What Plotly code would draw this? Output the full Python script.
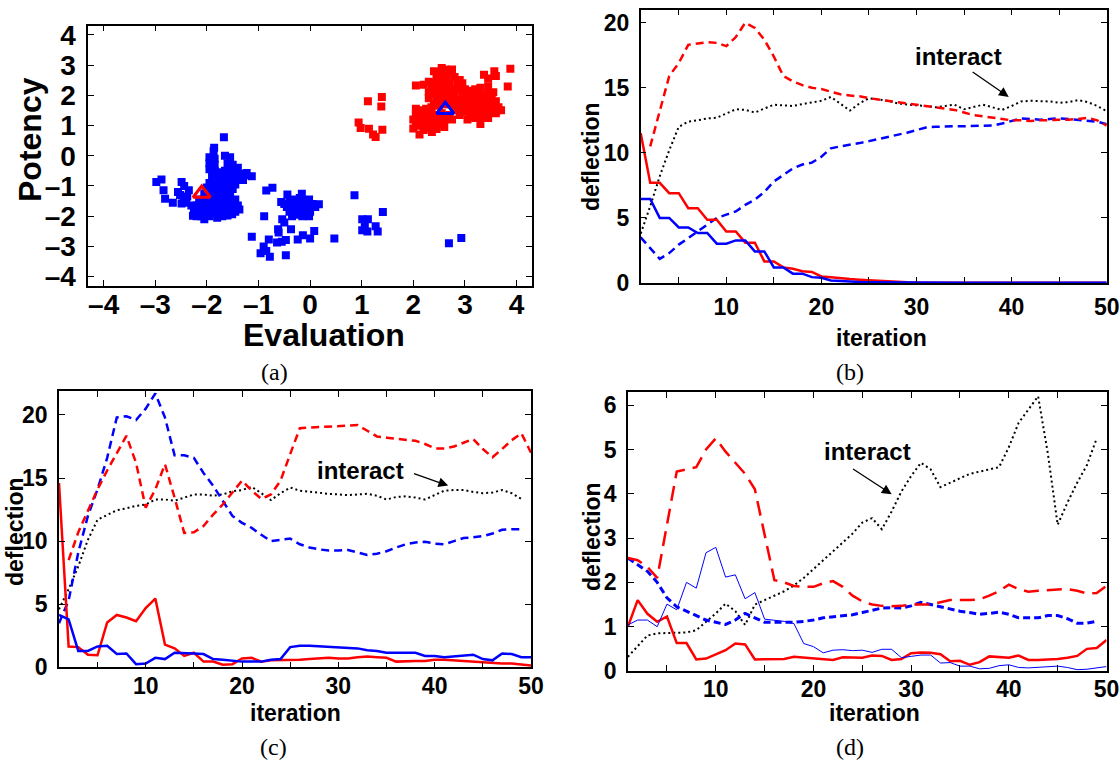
import plotly.graph_objects as go

# ---------------- data ----------------
# panel (a): scatter of (Evaluation, Potency)
red_pts = [
    (0.94,1.1),(0.98,0.92),(1.12,1.8),(1.39,1.94),(1.38,1.63),(1.14,0.89),(1.22,0.7),(1.27,0.62),(1.4,0.86),
    (3.88,2.88),(3.83,2.29),(3.3,1.05),(2.36,0.78),(2.12,0.7),(2.05,2.32),(2.4,2.79),(3.57,2.79),(3.37,2.68),
    (3.6,2.64),(3.45,2.55),(3.52,1.95),(3.62,1.5),
    (2.55,2.9),(2.62,2.85),(2.75,2.85),(2.5,2.7),(2.6,2.7),(2.7,2.72),(2.45,2.55),(2.55,2.55),(2.65,2.6),
    (2.8,2.6),(2.9,2.5),(2.3,2.45),(2.4,2.4),(2.5,2.4),(2.6,2.45),(2.7,2.4),(2.85,2.35),(2.95,2.4),(2.2,2.35),
    (2.35,2.3),(2.45,2.25),(2.55,2.2),(2.65,2.25),(2.75,2.2),(2.9,2.2),(2.3,2.1),(2.4,2.05),(2.5,2.0),(2.6,2.05),
    (2.7,2.05),(2.8,2.0),(2.95,2.05),(2.3,1.9),(2.45,1.85),(2.55,1.85),(2.65,1.9),(2.75,1.85),(2.85,1.85),
    (2.4,1.7),(2.5,1.65),(2.6,1.7),(2.7,1.7),(2.8,1.65),(2.9,1.7),
    (3.0,2.2),(3.1,2.15),(3.2,2.2),(3.3,2.25),(3.45,2.3),(3.05,2.0),(3.15,2.0),(3.25,2.05),(3.35,2.0),(3.45,2.05),
    (3.55,2.1),(3.0,1.85),(3.1,1.8),(3.2,1.85),(3.3,1.8),(3.4,1.85),(3.5,1.8),(3.6,1.8),(2.95,1.6),(3.05,1.65),
    (3.15,1.6),(3.25,1.65),(3.35,1.6),(3.45,1.6),(3.55,1.65),(3.65,1.6),(3.7,1.5),(3.0,1.45),(3.1,1.45),(3.2,1.4),
    (3.3,1.45),(3.4,1.4),(3.5,1.45),(3.6,1.4),(3.1,1.3),(3.2,1.25),(3.35,1.3),(3.45,1.25),(2.85,1.5),(2.9,1.35),(3.05,1.2),
    (2.05,1.55),(2.15,1.5),(2.25,1.55),(2.35,1.6),(2.05,1.35),(2.15,1.3),(2.25,1.35),(2.35,1.4),(2.45,1.35),
    (2.55,1.4),(2.7,1.35),(2.0,1.2),(2.1,1.15),(2.2,1.2),(2.3,1.2),(2.4,1.15),(2.5,1.2),(2.6,1.2),(2.75,1.2),
    (2.05,1.0),(2.15,1.0),(2.25,1.05),(2.35,1.0),(2.45,1.0),(2.55,1.05),(2.0,0.9),(2.2,0.85),(2.3,0.9),(2.45,0.88),(2.6,0.95),
]
blue_pts = [
    (-2.98,-0.87),(-2.88,-0.79),(-2.84,-1.14),(-2.81,-1.42),(-2.66,-1.56),(-2.56,-1.2),(-2.49,-0.87),(-2.44,-1.0),
    (-2.35,-1.14),(-2.4,-1.56),(-2.49,-1.58),(-2.52,-1.3),(-2.45,-1.45),(-2.38,-1.35),(-1.67,0.61),(-1.86,0.26),
    (-1.87,0.15),(-1.13,-0.68),(-1.23,-0.57),(-1.37,-1.78),(-1.51,-1.94),(-2.05,-2.1),(-2.27,-1.99),
    (-1.95,-0.05),(-1.85,-0.1),(-1.65,0.0),(-1.55,-0.05),(-1.95,-0.25),(-1.85,-0.3),(-1.6,-0.25),(-1.5,-0.3),
    (-1.4,-0.4),(-1.95,-0.45),(-1.85,-0.5),(-1.75,-0.55),(-1.65,-0.5),(-1.55,-0.5),(-1.45,-0.55),(-1.35,-0.6),
    (-1.25,-0.65),(-1.9,-0.7),(-1.8,-0.7),(-1.7,-0.75),(-1.6,-0.7),(-1.5,-0.75),(-1.4,-0.75),(-1.3,-0.8),
    (-1.95,-0.9),(-1.85,-0.95),(-1.75,-0.9),(-1.65,-0.95),(-1.55,-0.9),(-1.45,-0.95),(-2.0,-1.05),(-1.9,-1.1),
    (-1.8,-1.1),(-1.7,-1.05),(-1.6,-1.1),(-1.5,-1.1),
    (-2.05,-1.25),(-1.95,-1.3),(-1.85,-1.25),(-1.75,-1.3),(-1.65,-1.25),(-1.55,-1.3),(-2.15,-1.45),(-2.05,-1.45),
    (-1.95,-1.5),(-1.85,-1.45),(-1.75,-1.5),(-1.65,-1.45),(-1.55,-1.5),(-1.45,-1.45),(-2.3,-1.65),(-2.2,-1.65),
    (-2.1,-1.6),(-2.0,-1.65),(-1.9,-1.7),(-1.8,-1.65),(-1.7,-1.7),(-1.6,-1.65),(-1.5,-1.7),(-1.4,-1.65),
    (-2.25,-1.85),(-2.15,-1.8),(-2.05,-1.85),(-1.95,-1.85),(-1.85,-1.9),(-1.75,-1.85),(-1.65,-1.9),(-1.55,-1.85),
    (-1.45,-1.85),(-2.2,-2.0),(-2.1,-2.0),(-1.95,-2.0),(-1.8,-2.05),(-1.7,-2.0),(-1.6,-1.98),
    (-0.85,-1.15),(-0.73,-1.06),(-0.89,-2.0),(-1.13,-2.68),(-0.80,-2.77),(-0.9,-3.0),(-0.96,-3.23),(-0.78,-3.34),
    (-0.47,-3.29),(-0.64,-2.87),(-0.47,-2.79),(-0.61,-2.54),(-0.62,-2.43),(-0.54,-2.1),(-0.5,-2.21),(-0.37,-2.43),
    (-0.24,-2.77),(-0.14,-2.63),(0.0,-2.74),(0.08,-2.49),(0.47,-2.74),(-0.44,-1.28),(-0.16,-1.26),(0.17,-1.61),
    (-0.02,-1.45),(-0.02,-2.0),(-0.56,-1.53),(-0.55,-2.85),(-0.85,-3.15),
    (-0.4,-1.5),(-0.3,-1.45),(-0.2,-1.4),(-0.1,-1.5),(0.05,-1.6),(-0.45,-1.7),(-0.35,-1.65),(-0.25,-1.6),
    (-0.15,-1.65),(-0.05,-1.7),(0.1,-1.7),(-0.4,-1.85),(-0.3,-1.8),(-0.2,-1.85),(-0.1,-1.8),(0.0,-1.85),
    (-0.35,-2.0),(-0.25,-1.95),(-0.15,-2.0),(-0.3,-1.55),(-0.5,-1.6),
    (0.86,-1.31),(1.41,-1.86),(1.01,-2.1),(1.12,-2.1),(1.06,-2.33),(1.01,-2.47),(1.11,-2.51),(1.27,-2.33),
    (1.31,-2.51),(2.69,-2.9),(2.93,-2.72),
]
red_triangle = (-2.1, -1.25)
blue_triangle = (2.62, 1.52)

iterations = list(range(1, 51))

# panel (b)
b_red_solid = [11.5,7.7,7.7,6.9,6.9,5.75,5.75,4.86,4.86,3.96,3.96,3.1,3.1,1.66,1.66,1.2,1.1,0.9,0.85,0.5,
               0.45,0.35,0.3,0.25,0.2,0.15,0.1,0.07,0.05,0.03,0.02,0.02,0.02,0.01,0.01,0.01,0.01,0.01,0.01,0.01,
               0.01,0.01,0.01,0.01,0.01,0.01,0.01,0.01,0.01,0.01]
b_blue_solid = [6.45,6.45,5.0,5.0,4.27,4.27,3.84,3.84,3.02,3.02,3.27,3.27,2.43,2.43,1.2,1.2,0.72,0.72,0.45,0.4,
                0.2,0.15,0.1,0.08,0.06,0.05,0.04,0.03,0.02,0.02,0.01,0.01,0.01,0.01,0.01,0.01,0.01,0.01,0.01,0.01,
                0.01,0.01,0.01,0.01,0.01,0.01,0.01,0.01,0.01,0.01]
b_red_dash = [None,10.5,13.3,15.9,16.9,18.3,18.4,18.5,18.45,18.2,18.9,20.0,19.6,18.7,17.4,15.9,15.5,15.2,15.0,14.9,
              14.7,14.5,14.4,14.35,14.2,14.1,14.0,13.9,13.8,13.7,13.6,13.5,13.4,13.3,13.1,12.9,12.8,12.7,12.6,12.5,
              12.5,12.45,12.5,12.5,12.55,12.55,12.6,12.7,12.5,12.1]
b_blue_dash = [3.5,2.7,1.85,2.3,2.95,3.45,3.95,4.5,5.0,5.25,5.5,6.0,6.4,7.0,7.8,8.3,8.8,9.1,9.25,9.7,
               10.35,10.5,10.6,10.75,10.9,11.05,11.2,11.4,11.55,11.75,11.95,12.0,12.05,12.05,12.05,12.05,12.05,12.1,12.25,12.45,
               12.65,12.6,12.55,12.6,12.65,12.6,12.55,12.45,12.4,12.2]
b_interact = [3.8,5.9,8.2,10.2,12.0,12.4,12.5,12.65,12.7,13.0,13.35,13.3,13.1,13.4,13.7,13.65,13.6,13.75,13.9,14.0,
              14.3,13.8,13.25,13.8,14.2,14.1,14.0,13.8,13.7,13.65,13.6,13.5,13.6,13.7,13.35,13.5,13.7,13.5,13.3,13.6,
              13.95,14.0,14.0,13.95,13.85,13.9,14.05,13.9,13.6,13.2]

# panel (c)
c_red_solid = [14.6,1.65,1.6,1.0,0.95,3.55,4.15,3.95,3.65,4.7,5.45,1.8,1.5,0.9,1.15,0.45,0.45,0.2,0.25,0.7,
               0.75,0.45,0.55,0.55,0.55,0.6,0.65,0.7,0.75,0.7,0.7,0.8,0.85,0.8,0.75,0.45,0.5,0.5,0.5,0.6,
               0.6,0.55,0.5,0.45,0.4,0.3,0.3,0.3,0.25,0.15]
c_blue_solid = [4.15,3.8,1.3,1.3,1.65,1.7,1.05,1.1,0.25,0.3,0.75,0.65,1.15,1.15,1.1,1.05,0.65,0.6,0.5,0.45,
                0.45,0.45,0.6,0.65,1.6,1.7,1.7,1.65,1.65,1.6,1.55,1.5,1.35,1.3,1.15,1.15,1.2,1.15,0.9,0.9,
                0.8,0.85,0.95,1.0,0.65,0.55,1.1,1.05,0.8,0.8]
c_red_dash = [None,8.5,10.7,12.4,14.1,15.6,17.0,18.35,16.2,12.65,14.1,16.1,13.45,10.65,10.7,11.2,12.1,12.9,13.85,14.8,
              14.0,13.35,13.7,14.8,16.9,18.95,19.0,19.05,19.1,19.15,19.2,19.2,18.75,18.3,18.2,18.1,18.0,17.95,17.7,17.35,
              17.35,17.5,17.8,18.1,17.3,16.65,17.3,18.0,18.55,17.0]
c_blue_dash = [3.5,5.3,9.1,12.0,14.1,16.6,19.8,19.9,19.6,20.5,21.7,19.8,16.8,16.8,16.6,15.4,14.4,13.2,12.0,11.45,
               11.05,10.5,10.0,10.1,10.2,9.75,9.5,9.35,9.25,9.25,9.3,9.1,8.9,9.0,9.2,9.5,9.75,9.9,9.95,9.8,
               9.75,10.0,10.25,10.3,10.4,10.6,10.9,10.95,10.95,None]
c_interact = [4.6,6.2,8.0,10.1,11.7,12.1,12.45,12.6,12.8,12.9,13.3,13.3,13.2,13.45,13.7,13.7,13.6,13.7,13.95,14.05,
              14.3,13.8,13.25,13.8,14.25,14.0,13.9,13.8,13.75,13.7,13.65,13.7,13.75,13.6,13.3,13.5,13.55,13.45,13.3,13.65,
              14.0,14.05,14.05,13.9,13.8,13.85,14.05,13.8,13.35,None]

# panel (d)
d_red_solid = [1.0,1.6,1.29,1.11,1.23,0.63,0.63,0.26,0.28,0.38,0.47,0.62,0.6,0.26,0.26,0.26,0.27,0.32,0.3,0.28,
               0.26,0.25,0.31,0.3,0.3,0.35,0.34,0.25,0.27,0.4,0.42,0.41,0.38,0.22,0.23,0.14,0.2,0.33,0.31,0.3,
               0.35,0.25,0.25,0.26,0.27,0.3,0.34,0.5,0.52,0.7]
d_blue_solid = [1.04,1.15,1.15,1.0,1.51,1.38,2.0,1.87,2.67,2.79,2.12,2.17,1.63,1.77,1.17,1.15,1.12,1.07,0.62,0.55,
                0.41,0.47,0.48,0.46,0.47,0.42,0.49,0.49,0.3,0.33,0.36,0.36,0.18,0.19,0.11,0.11,0.05,0.06,0.12,0.14,
                0.08,0.07,0.08,0.09,0.11,0.08,0.03,0.04,0.07,0.1]
d_red_dash = [2.55,2.5,2.35,2.1,3.3,4.5,4.55,4.6,5.0,5.25,4.95,4.7,4.45,4.1,3.1,2.05,2.0,1.92,1.9,1.9,
              1.98,2.03,1.9,1.7,1.57,1.5,1.47,1.46,1.47,1.5,1.5,1.5,1.55,1.6,1.6,1.6,1.62,1.7,1.8,1.95,
              1.85,1.79,1.81,1.83,1.84,1.85,1.81,1.75,1.76,1.92]
d_blue_dash = [2.55,2.4,2.25,2.0,1.65,1.45,1.35,1.25,1.15,1.1,1.05,1.15,1.3,1.2,1.1,1.1,1.1,1.1,1.12,1.15,
               1.2,1.22,1.25,1.27,1.32,1.37,1.42,1.43,1.42,1.47,1.55,1.5,1.45,1.4,1.35,1.32,1.28,1.3,1.33,1.28,
               1.2,1.2,1.2,1.25,1.25,1.18,1.08,1.08,1.12,None]
d_interact = [0.32,0.55,0.8,0.85,0.86,0.87,0.87,0.92,1.1,1.3,1.52,1.35,1.04,1.5,1.6,1.7,1.8,1.93,2.1,2.3,
              2.5,2.7,2.9,3.1,3.35,3.45,3.2,3.6,4.05,4.4,4.7,4.55,4.15,4.25,4.35,4.45,4.5,4.55,4.6,5.05,
              5.6,5.9,6.2,4.9,3.3,3.8,4.25,4.65,5.25,None]

x_ticks_a = [-4, -3, -2, -1, 0, 1, 2, 3, 4]
y_ticks_a = [-4, -3, -2, -1, 0, 1, 2, 3, 4]
iter_ticks = [10, 20, 30, 40, 50]
iter_minor_ticks = [5, 15, 25, 35, 45]
defl_ticks_bc = [0, 5, 10, 15, 20]
defl_ticks_d = [0, 1, 2, 3, 4, 5, 6]

# ---------------- figure ----------------
W, H = 1120, 761
RED, BLUE = "#ff0000", "#0000ff"
FONT = "Liberation Sans"
SERIF = "Liberation Serif"

def xd(a, b):
    return [a / W, b / W]

def yd(top, bottom):
    return [1 - bottom / H, 1 - top / H]

def tick_text(vals):
    return ["<b>" + str(v).replace("-", "\u2013") + "</b>" for v in vals]

fig = go.Figure()

# panel (a)
fig.add_trace(go.Scatter(x=[p[0] for p in red_pts], y=[p[1] for p in red_pts], mode="markers",
                         marker=dict(symbol="square", size=8, color=RED), xaxis="x", yaxis="y"))
fig.add_trace(go.Scatter(x=[p[0] for p in blue_pts], y=[p[1] for p in blue_pts], mode="markers",
                         marker=dict(symbol="square", size=8, color=BLUE), xaxis="x", yaxis="y"))
fig.add_trace(go.Scatter(x=[red_triangle[0]], y=[red_triangle[1]], mode="markers",
                         marker=dict(symbol="triangle-up-open", size=15, color=RED, line=dict(width=3, color=RED)),
                         xaxis="x", yaxis="y"))
fig.add_trace(go.Scatter(x=[blue_triangle[0]], y=[blue_triangle[1]], mode="markers",
                         marker=dict(symbol="triangle-up-open", size=15, color=BLUE, line=dict(width=3, color=BLUE)),
                         xaxis="x", yaxis="y"))

def add_line(y, ax, color, width, dash):
    fig.add_trace(go.Scatter(x=iterations, y=y, mode="lines",
                             line=dict(color=color, width=width, dash=dash),
                             xaxis="x" + ax, yaxis="y" + ax, connectgaps=False))

DASH = "8px,5px"
DOT = "2px,3px"
# (b)
add_line(b_interact, "2", "black", 2, DOT)
add_line(b_blue_dash, "2", BLUE, 2.5, DASH)
add_line(b_red_dash, "2", RED, 2.5, DASH)
add_line(b_red_solid, "2", RED, 2.5, "solid")
add_line(b_blue_solid, "2", BLUE, 2.5, "solid")
# (c)
add_line(c_interact, "3", "black", 2, DOT)
add_line(c_blue_dash, "3", BLUE, 2.5, DASH)
add_line(c_red_dash, "3", RED, 2.5, DASH)
add_line(c_red_solid, "3", RED, 2.5, "solid")
add_line(c_blue_solid, "3", BLUE, 2.5, "solid")
# (d)
add_line(d_interact, "4", "black", 2, DOT)
add_line(d_blue_dash, "4", BLUE, 3, "7px,4px")
add_line(d_red_dash, "4", RED, 2.5, "15px,8px")
add_line(d_red_solid, "4", RED, 2.5, "solid")
add_line(d_blue_solid, "4", BLUE, 1, "solid")

def axis(domain, rng, tickvals, size, standoff, minor=False):
    d = dict(domain=domain, range=rng, tickvals=tickvals, ticktext=tick_text(tickvals),
             ticks="inside", ticklen=6, tickwidth=1.2,
             tickcolor="black", showline=True, linecolor="black", linewidth=1.5, mirror="allticks",
             showgrid=False, zeroline=False, automargin=False, ticklabeloverflow="allow",
             tickfont=dict(family=FONT, size=size, color="black"),
             ticklabelstandoff=standoff)
    if minor:
        d["minor"] = dict(tickvals=iter_minor_ticks, ticks="inside", ticklen=6, tickwidth=1.2,
                          tickcolor="black", showgrid=False)
    return d

fig.update_layout(
    width=W, height=H, margin=dict(l=0, r=0, t=0, b=0, autoexpand=False), showlegend=False,
    paper_bgcolor="white", plot_bgcolor="white",
    xaxis=dict(axis(xd(88.2, 532), [-4.3, 4.3], x_ticks_a, 28, -7), anchor="y"),
    yaxis=dict(axis(yd(25.7, 285.7), [-4.3, 4.3], y_ticks_a, 28, 5), anchor="x"),
    xaxis2=dict(axis(xd(640.7, 1106.7), [1, 50], iter_ticks, 23, 3, True), anchor="y2"),
    yaxis2=dict(axis(yd(9.7, 283), [0, 21], defl_ticks_bc, 23, 5), anchor="x2"),
    xaxis3=dict(axis(xd(59, 531), [1, 50], iter_ticks, 23, -3, True), anchor="y3"),
    yaxis3=dict(axis(yd(391, 667.3), [0, 21.9], defl_ticks_bc, 23, 5), anchor="x3"),
    xaxis4=dict(axis(xd(627.9, 1106.5), [1, 50], iter_ticks, 23, -3, True), anchor="y4"),
    yaxis4=dict(axis(yd(392.3, 671), [0, 6.29], defl_ticks_d, 23, 5), anchor="x4"),
)

def label(text, px, py, size, family=FONT, bold=True, angle=0):
    fig.add_annotation(text=("<b>" + text + "</b>") if bold else text, x=px / W, y=1 - py / H,
                       xref="paper", yref="paper",
                       xanchor="center", yanchor="middle", showarrow=False, textangle=angle,
                       font=dict(family=family, size=size, color="black"))

label("Evaluation", 324, 335, 32)
label("Potency", 30, 140, 32, angle=-90)
label("iteration", 881, 338, 23)
label("deflection", 591, 157, 23, angle=-90)
label("iteration", 295, 713, 23)
label("deflection", 15, 532, 23, angle=-90)
label("iteration", 874, 713, 23)
label("deflection", 592, 537, 23, angle=-90)
label("(a)", 274, 372, 24, family=SERIF, bold=False)
label("(b)", 850, 372, 24, family=SERIF, bold=False)
label("(c)", 273, 747, 24, family=SERIF, bold=False)
label("(d)", 850, 747, 24, family=SERIF, bold=False)

def interact(ax, tx, ty, hx, hy, tailx, taily):
    fig.add_annotation(text="<b>interact</b>", x=tx, y=ty, xref="x" + ax, yref="y" + ax, showarrow=False,
                       font=dict(family=FONT, size=24, color="black"))
    fig.add_annotation(text="", x=hx, y=hy, ax=tailx, ay=taily, xref="x" + ax, yref="y" + ax,
                       axref="x" + ax, ayref="y" + ax, showarrow=True, arrowhead=2, arrowsize=1.5,
                       arrowwidth=1.3, arrowcolor="black")

interact("2", 34.4, 17.4, 39.7, 14.3, 35.75, 16.3)
interact("3", 32.3, 15.6, 41.4, 14.4, 37.7, 15.4)
interact("4", 25.5, 4.95, 28.0, 3.99, 23.9, 4.58)

fig.write_html("out.html", config={"displayModeBar": False},
               post_script="document.body.style.margin='0';document.body.style.padding='0';")
